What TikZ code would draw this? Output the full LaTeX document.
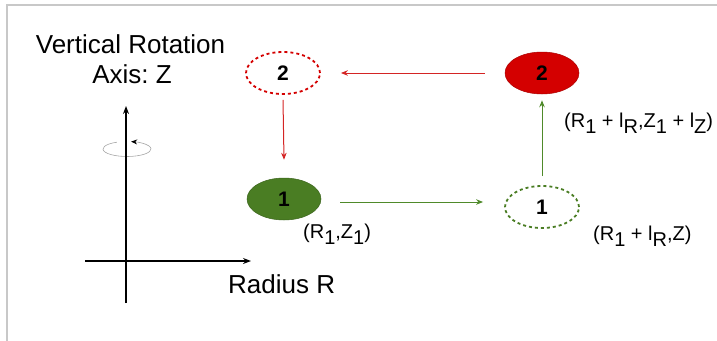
\documentclass[tikz,border=0pt]{standalone}
\usepackage{fontspec}
\setmainfont{Liberation Sans}
\usetikzlibrary{arrows.meta,shapes.geometric}
\frenchspacing
\definecolor{gfill}{HTML}{4A7D23}
\definecolor{rfill}{HTML}{D40000}
\definecolor{rline}{HTML}{D42424}
\definecolor{gline}{HTML}{4F8A2A}
\definecolor{frame}{HTML}{C8C8C8}
\newcommand\lsub[1]{\raisebox{-6pt}{#1}}
\tikzset{
  bigtxt/.style={font=\fontsize{26}{30}\selectfont, inner sep=0pt, anchor=base},
  lbl/.style={font=\fontsize{20}{24}\selectfont, inner sep=0pt, anchor=base west},
  stepnode/.style={ellipse, minimum width=74pt, minimum height=42pt, inner sep=0pt,
    font=\fontsize{21}{21}\selectfont\bfseries},
  gsolid/.style={stepnode, fill=gfill, draw=gfill!80!black, line width=0.5pt},
  rsolid/.style={stepnode, fill=rfill, draw=rfill!80!black, line width=0.5pt},
  gdash/.style={stepnode, draw=gfill, line width=1.8pt, dash pattern=on 3pt off 3pt},
  rdash/.style={stepnode, draw=rfill, line width=1.8pt, dash pattern=on 3pt off 3pt},
  rconn/.style={draw=rline, line width=1pt, -{Stealth[length=7pt,width=5.5pt]}},
  gconn/.style={draw=gline, line width=1pt, -{Stealth[length=7pt,width=5.5pt]}},
  axis/.style={draw=black, line width=1.5pt, -{Stealth[length=8pt,width=6pt]}},
}
\begin{document}
\begin{tikzpicture}[x=1pt,y=-1pt]
\useasboundingbox (0,0) rectangle (717,340);
\draw[frame, line width=1.2pt] (7,345) -- (7,5) -- (725,5);

% title
\node[bigtxt] (t1) at (130.5,53) {Vertical Rotation};
\node[bigtxt] (t2) at (132,83) {Axis: Z};

% axes
\coordinate (zb) at (126,303);
\coordinate (zt) at (126,106);
\coordinate (rl) at (85,261);
\coordinate (rr) at (251,261);
\coordinate (rc) at (127,149);
\draw[gray!70, line width=0.6pt, -{Stealth[black,length=6pt,width=5pt]}]
  ([shift={(115:24pt and 7.5pt)}]rc) arc[start angle=115, end angle=440, x radius=24pt, y radius=7.5pt];
\draw[axis] (rl) -- (rr);
\draw[axis] (zb) -- (zt);
\node[bigtxt, anchor=base west] (rad) at (228,293) {Radius R};

% states
\node[rdash] (n2a) at (283,73) {2};
\node[gsolid] (n1a) at (284,199) {1};
\node[gdash] (n1b) at (542,207) {1};
\node[rsolid] (n2b) at (542,73) {2};

% connectors
\draw[rconn] ([xshift=-20pt]n2b.west) -- ([xshift=20pt]n2a.east);
\draw[rconn] ([yshift=-5pt]n2a.south) -- ([yshift=18pt]n1a.north);
\draw[gconn] ([shift={(19pt,-3pt)}]n1a.east) -- ([shift={(-21pt,5pt)}]n1b.west);
\draw[gconn] ([yshift=9pt]n1b.north) -- ([yshift=-6pt]n2b.south);

% labels
\node[lbl] (l1) at (303,238) {(R\lsub{1},Z\lsub{1})};
\node[lbl] (l2) at (564,127) {(R\lsub{1} + l\lsub{R},Z\lsub{1} + l\lsub{Z})};
\node[lbl] (l3) at (593,240) {(R\lsub{1} + l\lsub{R},Z)};
\end{tikzpicture}
\end{document}
